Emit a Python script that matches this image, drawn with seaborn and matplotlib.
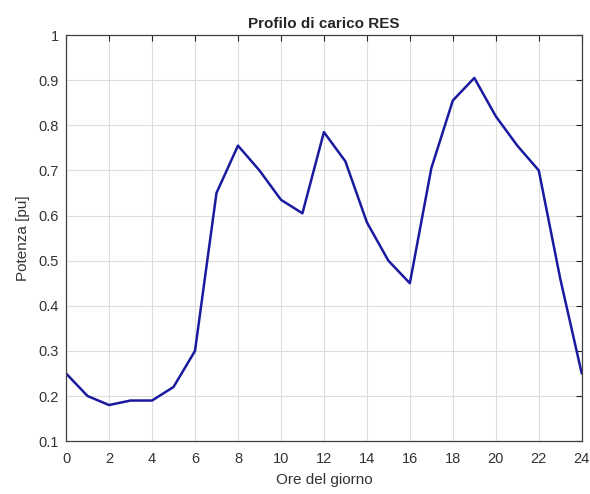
import pandas as pd
import matplotlib
matplotlib.use("Agg")
import matplotlib.pyplot as plt
import matplotlib.ticker as mticker
import seaborn as sns


hours = list(range(25))
power = [0.25, 0.20, 0.18, 0.19, 0.19, 0.22, 0.30, 0.65, 0.755, 0.70,
         0.635, 0.605, 0.785, 0.72, 0.585, 0.50, 0.45, 0.705, 0.855, 0.905,
         0.82, 0.755, 0.70, 0.46, 0.25]
x_ticks = list(range(0, 25, 2))
y_ticks = [0.1, 0.2, 0.3, 0.4, 0.5, 0.6, 0.7, 0.8, 0.9, 1.0]

df = pd.DataFrame({"Ore": hours, "Potenza": power})

sns.set_style("whitegrid")
plt.rcParams["font.family"] = ["Liberation Sans", "DejaVu Sans"]

fig = plt.figure(figsize=(5.9, 4.94), dpi=100)
ax = fig.add_axes([0.112, 0.107, 0.874, 0.822])

sns.lineplot(data=df, x="Ore", y="Potenza", color="#1a1aa0", linewidth=1.8, ax=ax)

ax.set_xlim(0, 24)
ax.set_ylim(0.1, 1)
ax.set_xticks(x_ticks)
ax.set_yticks(y_ticks)
ax.yaxis.set_major_formatter(mticker.FuncFormatter(lambda v, p: "%g" % v))
ax.tick_params(direction="in", length=4, width=0.8, colors="#262626",
               labelcolor="#333333", labelsize=10.5, top=True, right=True)
ax.tick_params(axis="x", pad=8)
ax.tick_params(axis="y", pad=5)
ax.grid(True, color="#dddddd", linewidth=0.8)
for s in ax.spines.values():
    s.set_color("#404040")
    s.set_linewidth(0.9)

ax.set_xlabel("Ore del giorno", fontsize=11, color="#333333", labelpad=5)
ax.set_ylabel("Potenza [pu]", fontsize=11, color="#333333", labelpad=6)
ax.set_title("Profilo di carico RES", fontsize=11, fontweight="bold", pad=5)

fig.savefig("out.png", dpi=100)
